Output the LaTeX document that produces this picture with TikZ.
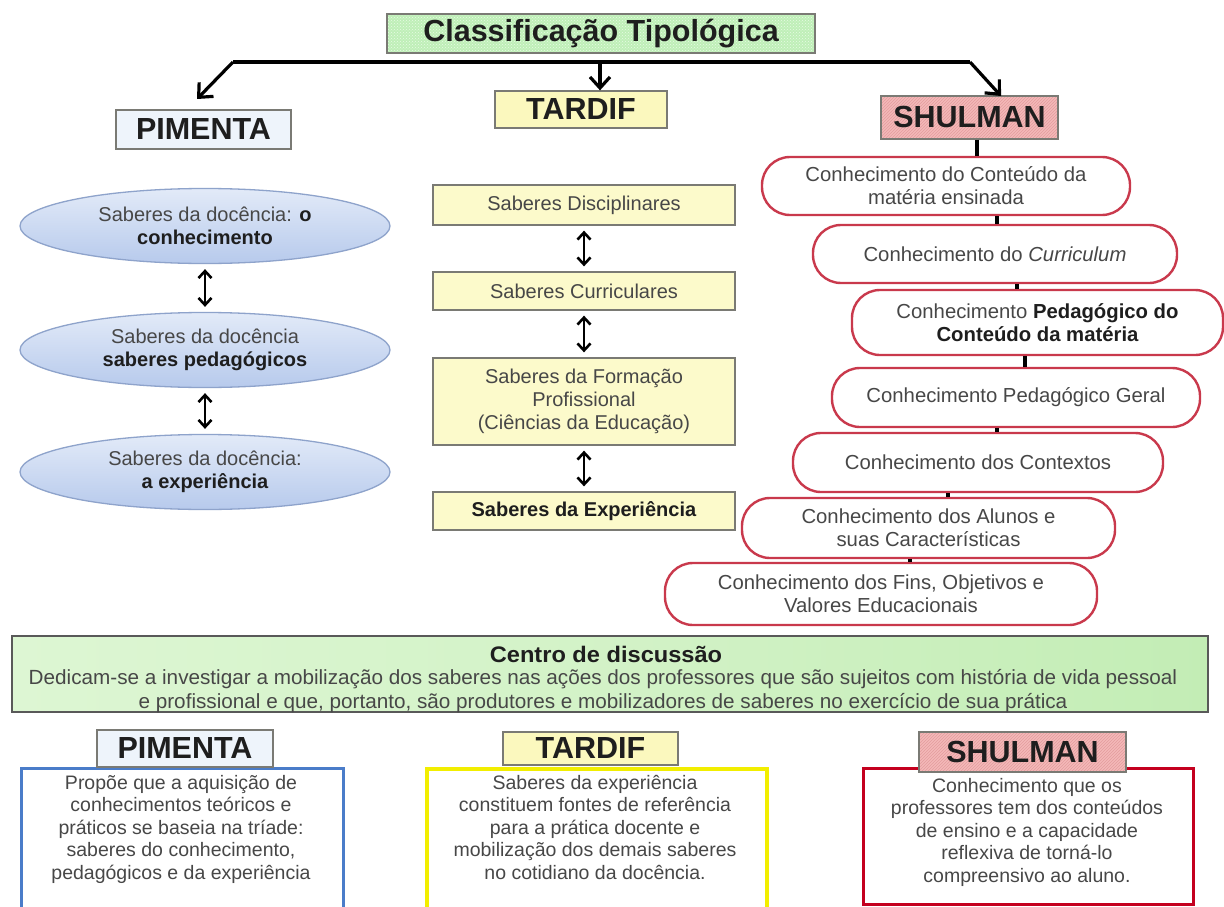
\documentclass[tikz,border=0pt]{standalone}
\usepackage{fontspec}
\setmainfont{Liberation Sans}
\newfontfamily\centrefont[FakeStretch=1.01]{Liberation Sans}
\newfontfamily\centrebold[FakeStretch=1.05]{Liberation Sans}
\usetikzlibrary{shapes.geometric,arrows.meta,patterns,calc}
\definecolor{txt}{HTML}{474747}
\definecolor{dark}{HTML}{1E1E1E}
\definecolor{boxline}{HTML}{7A7A74}
\definecolor{titlegreen}{HTML}{BFEFB8}
\definecolor{titledots}{HTML}{E8FBE4}
\definecolor{pimfill}{HTML}{EEF4FB}
\definecolor{tarfill}{HTML}{FBF8BE}
\definecolor{tarbox}{HTML}{FCFACB}
\definecolor{shufill}{HTML}{F4B9B9}
\definecolor{shuhatch}{HTML}{E39C9E}
\definecolor{elltop}{HTML}{E2EAF8}
\definecolor{ellbot}{HTML}{B7CAEC}
\definecolor{ellline}{HTML}{8EA3CB}
\definecolor{shuline}{HTML}{C9394C}
\definecolor{cgreenA}{HTML}{DDF6D3}
\definecolor{cgreenB}{HTML}{C3EDB5}
\definecolor{blueline}{HTML}{4A7CC9}
\definecolor{yelline}{HTML}{F2EE00}
\definecolor{redline}{HTML}{C4001F}
\begin{document}
\begin{tikzpicture}[x=1pt,y=-1pt,
  hdr/.style={draw=boxline, line width=1.3pt, inner sep=0pt,
    font=\fontsize{30.5}{32}\selectfont\bfseries, text=dark},
  pimell/.style={ellipse, draw=ellline, line width=1.3pt, top color=elltop, bottom color=ellbot,
    minimum width=370pt, minimum height=75pt, inner sep=0pt, align=center,
    font=\fontsize{20}{22.5}\selectfont, text=txt},
  tbox/.style={rectangle, draw=boxline, line width=1.3pt, fill=tarbox, minimum width=302pt,
    inner sep=0pt, align=center, font=\fontsize{20}{23}\selectfont, text=txt},
  sbox/.style={rectangle, rounded corners=28pt, draw=shuline, line width=2.4pt, fill=white,
    inner sep=0pt, align=center, font=\fontsize{20.3}{23}\selectfont, text=txt},
  dbl/.style={{Straight Barb[length=7pt,width=13pt]}-{Straight Barb[length=7pt,width=13pt]},
    line width=2.6pt, black, shorten <=5pt, shorten >=5pt},
  arr/.style={-{Straight Barb[length=11pt,width=20pt]}, line width=3.2pt, black},
  link/.style={line width=3.2pt, black},
  descr/.style={align=center, anchor=north, inner sep=0pt,
    font=\fontsize{19.5}{22.5}\selectfont, text=txt},
]
\useasboundingbox (0,0) rectangle (1224,907);
\fill[white] (0,0) rectangle (1224,907);

% ---------- title ----------
\node[hdr, minimum width=428pt, minimum height=39pt,
  preaction={fill=titlegreen}, pattern=crosshatch dots, pattern color=titledots]
  (title) at (601,33.5) {Classificação Tipológica};

% ---------- headers ----------
\node[hdr, fill=pimfill, minimum width=175pt, minimum height=39pt] (P) at (203.5,129.5) {PIMENTA};
\node[hdr, fill=tarfill, minimum width=172pt, minimum height=37pt] (T) at (581,109.5) {TARDIF};
\node[hdr, minimum width=177pt, minimum height=43pt,
  preaction={fill=shufill}, pattern=north east lines, pattern color=shuhatch] (S) at (969.5,117.5) {SHULMAN};

% top connectors
\coordinate (jL) at (233,62);
\coordinate (jR) at (970,62);
\coordinate (hub) at (600,62);
\coordinate (tipL) at (197,99);
\coordinate (tipR) at (1001,96);
\draw[line width=3.2pt, line join=round] (jL) -- (jR);
\draw[arr, line join=round] (jL) -- (tipL);
\draw[arr, line join=round] (jR) -- (tipR);
\draw[arr] (hub) -- (hub |- T.north);

% ---------- PIMENTA column ----------
\node[pimell] (E1) at (205,226) {Saberes da docência: \textbf{\color{dark}o}\\\textbf{\color{dark}conhecimento}};
\node[pimell] (E2) at (205,350) {Saberes da docência\\\textbf{\color{dark}saberes pedagógicos}};
\node[pimell] (E3) at (205,472) {Saberes da docência:\\\textbf{\color{dark}a experiência}};
\draw[dbl] (E1.south) -- (E2.north);
\draw[dbl] (E2.south) -- (E3.north);

% ---------- TARDIF column ----------
\node[tbox, minimum height=40pt] (B1) at (584,205) {Saberes Disciplinares};
\node[tbox, minimum height=38pt] (B2) at (584,291) {Saberes Curriculares};
\node[tbox, minimum height=87pt] (B3) at (584,401.5) {Saberes da Formação\\Profissional\\(Ciências da Educação)};
\node[tbox, minimum height=38pt, text=dark] (B4) at (584,511) {\textbf{Saberes da Experiência}};
\draw[dbl] (B1.south) -- (B2.north);
\draw[dbl] (B2.south) -- (B3.north);
\draw[dbl] (B3.south) -- (B4.north);

% ---------- SHULMAN column ----------
\node[sbox, minimum width=368pt, minimum height=58pt] (S1) at (946,186) {Conhecimento do Conteúdo da\\matéria ensinada};
\node[sbox, minimum width=364pt, minimum height=58pt] (S2) at (995,254) {Conhecimento do \textit{Curriculum}};
\node[sbox, minimum width=371pt, minimum height=65pt] (S3) at (1037.5,322.5) {Conhecimento \textbf{\color{dark}Pedagógico do}\\\textbf{\color{dark}Conteúdo da matéria}};
\node[sbox, minimum width=368pt, minimum height=59pt] (S4) at (1016,397.5) {Conhecimento Pedagógico Geral};
\node[sbox, minimum width=370pt, minimum height=59pt] (S5) at (978,462.5) {Conhecimento dos Contextos};
\node[sbox, minimum width=373pt, minimum height=60pt] (S6) at (928.5,528) {Conhecimento dos Alunos e\\suas Características};
\node[sbox, minimum width=432pt, minimum height=62pt] (S7) at (881,594) {Conhecimento dos Fins, Objetivos e\\Valores Educacionais};
\draw[link] (S.south -| 977,0) -- (S1.north -| 977,0);
\draw[link] (S1.south -| 997,0) -- (S2.north -| 997,0);
\draw[link] (S2.south -| 1017,0) -- (S3.north -| 1017,0);
\draw[link] (S3.south -| 1025,0) -- (S4.north -| 1025,0);
\draw[link] (S4.south -| 997,0) -- (S5.north -| 997,0);
\draw[link] (S5.south -| 948,0) -- (S6.north -| 948,0);
\draw[link] (S6.south -| 910,0) -- (S7.north -| 910,0);

% ---------- centre box ----------
\node[draw=black!65, line width=2pt, left color=cgreenA, right color=cgreenB, middle color=cgreenA!60!cgreenB,
  minimum width=1196pt, minimum height=76pt, inner sep=0pt] (C) at (610,674) {};
\node[font=\centrebold\fontsize{22.5}{24}\selectfont\bfseries, text=dark, inner sep=0pt] (Ct) at (606,654) {Centro de discussão};
\node[font=\centrefont\fontsize{20.5}{25}\selectfont, text=txt, inner sep=0pt] (C1) at (603,679)
  {Dedicam-se a investigar a mobilização dos saberes nas ações dos professores que são sujeitos com história de vida pessoal};
\node[font=\centrefont\fontsize{20.5}{25}\selectfont, text=txt, inner sep=0pt] (C2) at (603,703)
  {e profissional e que, portanto, são produtores e mobilizadores de saberes no exercício de sua prática};

% ---------- bottom boxes ----------
\node[draw=blueline, line width=2.5pt, fill=white, minimum width=322pt, minimum height=170pt, anchor=north west, inner sep=0pt] (PB) at (20,767) {};
\node[draw=yelline, line width=4pt, fill=white, minimum width=340pt, minimum height=170pt, anchor=north west, inner sep=0pt] (TB) at (425,767) {};
\node[draw=redline, line width=3pt, fill=white, minimum width=330pt, minimum height=136pt, anchor=north west, inner sep=0pt] (SB) at (862,767) {};

\node[hdr, fill=pimfill, minimum width=176pt, minimum height=37pt] (P2) at (185,748.5) {PIMENTA};
\node[hdr, fill=tarfill, minimum width=175pt, minimum height=33pt] (T2) at (590.5,748.5) {TARDIF};
\node[hdr, minimum width=207pt, minimum height=40pt,
  preaction={fill=shufill}, pattern=north east lines, pattern color=shuhatch] (S2b) at (1022.5,752) {SHULMAN};

\node[descr] (PT) at (181,775) {Propõe que a aquisição de\\conhecimentos teóricos e\\práticos se baseia na tríade:\\saberes do conhecimento,\\pedagógicos e da experiência};
\node[descr] (TT) at (595,775) {Saberes da experiência\\constituem fontes de referência\\para a prática docente e\\mobilização dos demais saberes\\no cotidiano da docência.};
\node[descr] (ST) at (1027,778) {Conhecimento que os\\professores tem dos conteúdos\\de ensino e a capacidade\\reflexiva de torná-lo\\compreensivo ao aluno.};
\end{tikzpicture}
\end{document}
